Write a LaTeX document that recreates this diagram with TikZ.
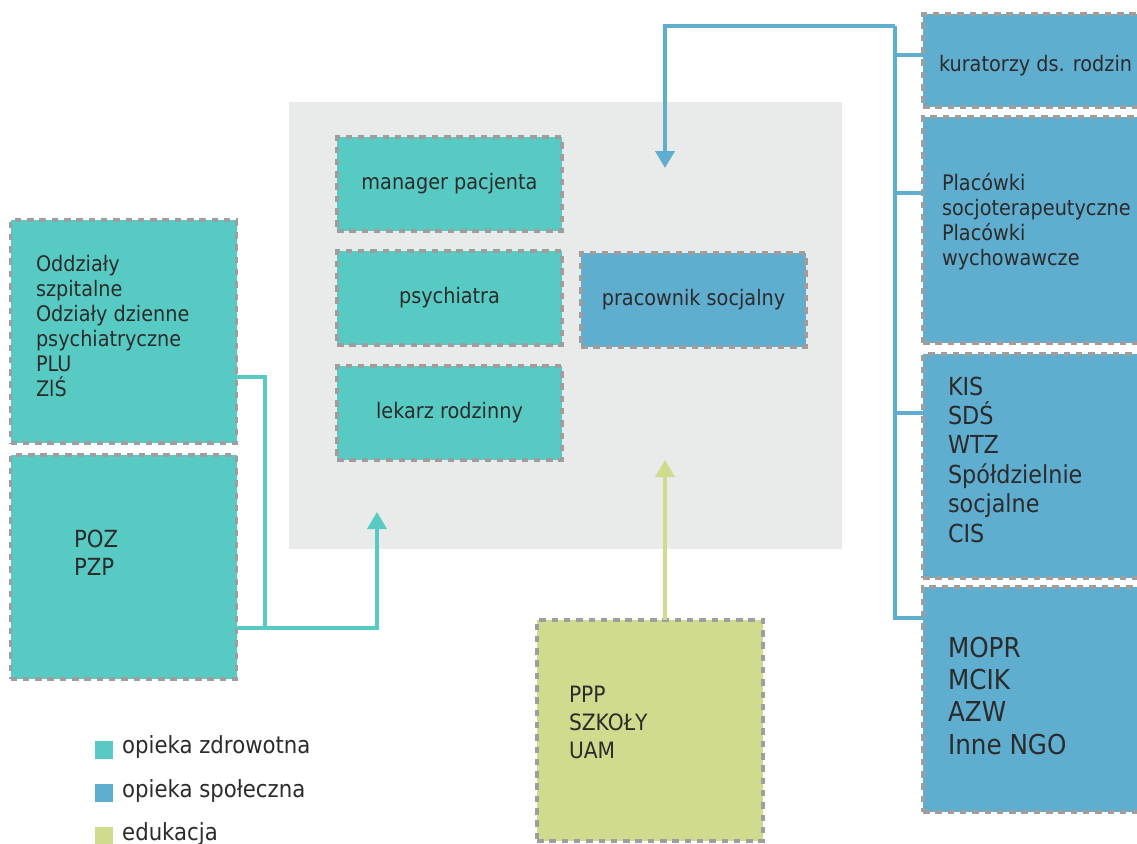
\documentclass[tikz,border=0pt]{standalone}
\usepackage{fontspec}
\setmainfont{DejaVu Sans}[FakeStretch=0.9]
\usetikzlibrary{arrows.meta}
\definecolor{zdrowie}{HTML}{57CBC3}
\definecolor{spoleczna}{HTML}{5FADCF}
\definecolor{edukacja}{HTML}{D1DB8D}
\definecolor{panel}{HTML}{E9EAEA}
\definecolor{ramka}{HTML}{9E9E9E}
\definecolor{tekst}{HTML}{2B2B2B}

\begin{document}
\begin{tikzpicture}[x=1pt,y=-1pt,
  box/.style={draw=ramka, line width=3.6pt, dash pattern=on 6.5pt off 5.8pt,
    inner sep=0pt, outer sep=0pt, text=tekst},
  zbox/.style={box, fill=zdrowie},
  sbox/.style={box, fill=spoleczna},
  ebox/.style={box, fill=edukacja},
  rolebox/.style={minimum width=225pt, minimum height=94pt,
    font=\fontsize{21.4}{25}\selectfont},
  bigbox/.style={minimum width=226pt, minimum height=224pt},
  % multi-line labels are placed by the baseline of their last line
  txt/.style={inner sep=0pt, outer sep=0pt, text=tekst, align=left, anchor=base west},
  link/.style={line width=4pt},
  zlink/.style={link, draw=zdrowie},
  slink/.style={link, draw=spoleczna},
  elink/.style={link, draw=edukacja},
  tip/.style={-{Triangle[width=19pt,length=17pt]}},
  swatch/.style={minimum width=18pt, minimum height=18pt, inner sep=0pt, outer sep=0pt},
  legtxt/.style={inner sep=0pt, text=tekst, anchor=base west, font=\fontsize{23.6}{25}\selectfont},
]
\useasboundingbox (0,0) rectangle (1137,843);
\clip (0,0) rectangle (1137,843);
\fill[white] (0,0) rectangle (1137,843);

% central team panel
\fill[panel] (289,102) rectangle (842,549);

% team members
\node[zbox, rolebox] (mgr) at (449.5,184) {manager pacjenta};
\node[zbox, rolebox] (psy) at (449.5,298) {psychiatra};
\node[zbox, rolebox] (lek) at (449.5,413) {lekarz rodzinny};
\node[sbox, rolebox] (prac) at (693.5,300) {pracownik socjalny};

% health care (left)
\node[zbox, bigbox, minimum height=223pt] (oddz) at (123.5,331.5) {};
\node[txt, font=\fontsize{21.4}{25}\selectfont] (oddzt) at (36,396)
  {Oddziały\\szpitalne\\Odziały dzienne\\psychiatryczne\\PLU\\ZlŚ};
\node[zbox, bigbox] (poz) at (123.5,567) {};
\node[txt, font=\fontsize{23.6}{28}\selectfont] (pozt) at (74,575) {POZ\\PZP};

% education (bottom)
\node[ebox, bigbox, minimum height=221pt] (ppp) at (650,730.5) {};
\node[txt, font=\fontsize{22.5}{28}\selectfont] (pppt) at (569,758) {PPP\\SZKOŁY\\UAM};

% social care (right)
\node[sbox, minimum width=226pt, minimum height=93pt] (kur) at (1036,60.5) {};
\node[txt, font=\fontsize{21.4}{25}\selectfont] (kurt) at (939,71) {kuratorzy ds. rodzin};
\node[sbox, bigbox, minimum height=226pt] (plac) at (1036,230) {};
\node[txt, font=\fontsize{21.4}{25}\selectfont] (plact) at (942,265)
  {Placówki\\socjoterapeutyczne\\Placówki\\wychowawcze};
\node[sbox, bigbox] (kis) at (1036,466) {};
\node[txt, font=\fontsize{24.8}{29.4}\selectfont] (kist) at (948,542)
  {KIS\\SDŚ\\WTZ\\Spółdzielnie\\socjalne\\CIS};
\node[sbox, bigbox, minimum height=225pt] (mopr) at (1036,699.5) {};
\node[txt, font=\fontsize{27.4}{32.3}\selectfont] (moprt) at (948,754)
  {MOPR\\MCIK\\AZW\\Inne NGO};

% social care bus
\coordinate (sTop) at (895,26);
\coordinate (s1) at (895,55);
\coordinate (s2) at (895,193);
\coordinate (s3) at (895,413);
\coordinate (sBot) at (895,618);
\coordinate (sTip) at (665,168);
\draw[slink] (sTop) -- (sBot) -- (sBot -| mopr.west);
\draw[slink] (s1) -- (s1 -| kur.west);
\draw[slink] (s2) -- (s2 -| plac.west);
\draw[slink] (s3) -- (s3 -| kis.west);
\draw[slink, tip] (sTop) -- (sTop -| sTip) -- (sTip);

% health care links
\coordinate (z1) at (265,377);
\coordinate (zJoin) at (265,628);
\coordinate (zTip) at (377,512);
\draw[zlink] (z1 -| oddz.east) -- (z1) -- (zJoin);
\draw[zlink, tip] (zJoin -| poz.east) -- (zJoin -| zTip) -- (zTip);

% education link
\coordinate (eTip) at (665,460);
\draw[elink, tip] (ppp.north -| eTip) -- (eTip);

% legend
\node[swatch, fill=zdrowie] (lz) at (104,750) {};
\node[legtxt] (lzt) at (122,753) {opieka zdrowotna};
\node[swatch, fill=spoleczna] (ls) at (104,793) {};
\node[legtxt] (lst) at (122,797) {opieka społeczna};
\node[swatch, fill=edukacja] (le) at (104,836) {};
\node[legtxt] (let) at (122,840) {edukacja};
\end{tikzpicture}
\end{document}
